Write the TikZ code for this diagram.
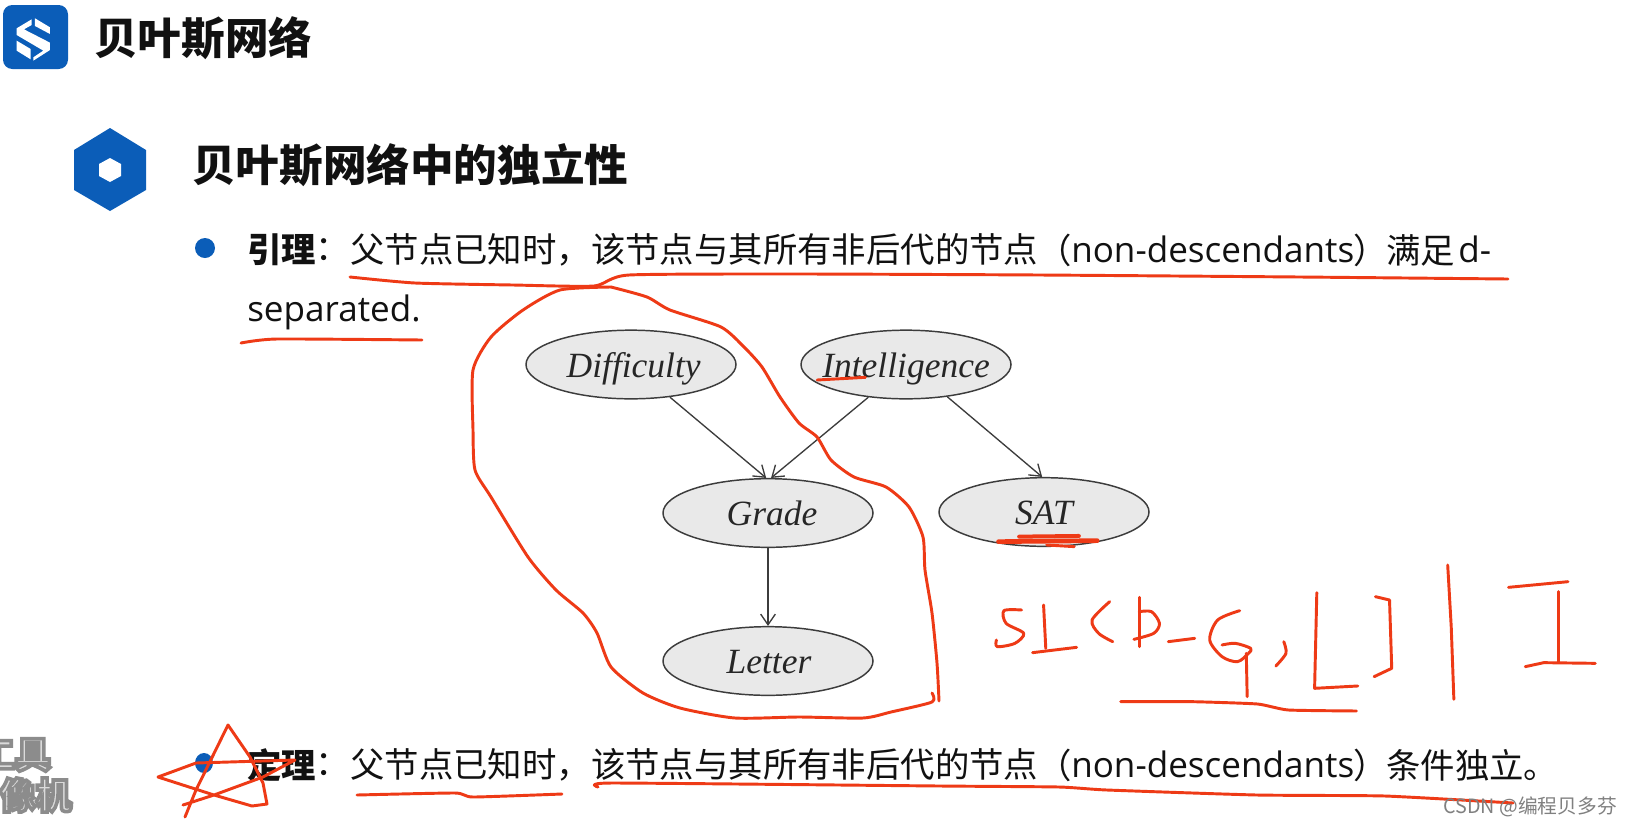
\documentclass[tikz,border=0pt]{standalone}
\usepackage{fontspec}
\setmainfont{Noto Sans CJK SC}
\newfontfamily\latinb{Open Sans}
\newfontfamily\ser{Liberation Serif}
\newfontfamily\wmfont[BoldFeatures={FakeBold=10}]{Noto Sans CJK SC}
\usetikzlibrary{shapes.geometric,arrows.meta}
\definecolor{brandblue}{HTML}{0B5DB8}
\definecolor{ink}{HTML}{111111}
\definecolor{redpen}{HTML}{EE3A16}
\definecolor{nodefill}{HTML}{E9E9E9}
\definecolor{nodeline}{HTML}{3C3C3C}
\newcommand{\bnlabel}[1]{\makebox[0pt][c]{\smash{\raisebox{-9.4pt}{#1}}}}
\newcommand{\wmtext}[1]{\special{pdf:bc [0.86] [0.55]}#1\special{pdf:ec}}
\tikzset{
  x=0.75pt,y=-0.75pt,
  pen/.style={draw=redpen,line width=2.2pt,line cap=round,line join=round},
  bn/.style={ellipse,draw=nodeline,line width=1.1pt,fill=nodefill,minimum width=157.5pt,minimum height=51.5pt,inner sep=0pt,font=\ser\itshape\fontsize{26.6}{26}\selectfont,text=black!85},
  edge/.style={draw=nodeline,line width=1pt,-{Straight Barb[length=8pt,width=11pt,line width=1pt]}},
  ttl/.style={anchor=west,inner sep=0pt,font=\fontsize{32.7}{33}\selectfont\bfseries,text=ink},
  body/.style={anchor=west,inner sep=0pt,font=\fontsize{25.8}{26}\selectfont,text=ink},
  bodyb/.style={anchor=west,inner sep=0pt,font=\fontsize{25.8}{26}\selectfont\bfseries,text=ink},
  lat/.style={anchor=west,inner sep=0pt,font=\latinb\fontsize{26.3}{26}\selectfont,text=ink},
  wm/.style={anchor=east,inner sep=0pt,font=\wmfont\fontsize{27}{27}\selectfont\bfseries},
}
\begin{document}
\begin{tikzpicture}
\useasboundingbox (0,0) rectangle (1631,826);
\fill[white] (0,0) rectangle (1631,826);
% logo
\fill[brandblue,rounded corners=7pt] (3,5) rectangle (68,69);
\begin{scope}[scale=0.3333]
\fill[white] (105,55) -- (150,82) -- (150,102) -- (105,78) -- cycle;
\fill[white] (95,58) -- (50,85) -- (50,105) -- (130,152) -- (100,172) -- (100,182) -- (150,150) -- (150,128) -- (72,88) -- (95,75) -- cycle;
\fill[white] (50,122) -- (92,147) -- (92,178) -- (50,152) -- cycle;
\end{scope}
% header texts
\node[ttl] (title) at (94,38) {贝叶斯网络};
\fill[brandblue] (110,128) -- (146,150) -- (146,190) -- (110,211) -- (74,190) -- (74,150) -- cycle;
\fill[white] (110,158) -- (121,164) -- (121,176) -- (110,182) -- (99,176) -- (99,164) -- cycle;
\node[ttl] (section) at (192,165) {贝叶斯网络中的独立性};
% bullets
\fill[brandblue] (205,248) circle (10);
\fill[brandblue] (204,763) ellipse (9 and 10);
% lemma
\node[bodyb] (lemma) at (247,250) {引理};
\node[body] (lemmacolon) at (315,250) {：};
\node[body] (l1) at (350,250) {父节点已知时，该节点与其所有非后代的节点};
\node[body] (l2a) at (1037,250) {（};
\node[lat] (l2) at (1071,249) {non-descendants};
\node[body] (l2b) at (1353,250) {）};
\node[body] (l3) at (1386,250) {满足};
\node[lat] (l4) at (1458,249) {d-};
\node[lat] (l5) at (247,312) {separated.};
% theorem
\node[bodyb] (thm) at (247,765) {定理};
\node[body] (thmcolon) at (315,765) {：};
\node[body] (t1) at (350,765) {父节点已知时，该节点与其所有非后代的节点};
\node[body] (t2a) at (1037,765) {（};
\node[lat] (t2) at (1071,764) {non-descendants};
\node[body] (t2b) at (1353,765) {）};
\node[body] (t3) at (1386,765) {条件独立。};
% network
\node[bn] (D) at (631,364.5) {\bnlabel{\kern4pt Difficulty}};
\node[bn] (I) at (906,364.5) {\bnlabel{Intelligence}};
\node[bn] (G) at (768,513) {\bnlabel{\kern6pt Grade}};
\node[bn] (S) at (1044,512) {\bnlabel{SAT}};
\node[bn] (L) at (768,661) {\bnlabel{\kern1.5pt Letter}};
\draw[edge] (D.-40) -- (G.93);
\draw[edge] (I.-139.5) -- (G.85);
\draw[edge] (I.-38.4) -- (S.93);
\draw[edge] (G) -- (L);
% red pen
\draw[pen] plot[smooth,tension=0.35] coordinates {(350,277)(415,283)(513,285)(594,286)(629,275)(800,274)(1040,275)(1300,277)(1508,279)};
\draw[pen] plot[smooth,tension=0.35] coordinates {(241,343)(277,339)(422,340)};
\draw[pen] plot[smooth,tension=0.4] coordinates {(611,287)(647,297)(670,310)(721,327)(744,347)(762,367)(780,397)(799,423)(817,437)(831,460)(854,477)(886,487)(909,507)(923,537)(925,570)(932,613)(937,663)(939,701)};
\draw[pen] plot[smooth,tension=0.4] coordinates {(932,693)(932,702)(891,712)(863,718)(799,717)(735,718)(680,708)(643,693)(611,667)(597,633)(583,613)(556,590)(528,557)(491,497)(475,470)(473,430)(473,370)(491,337)(523,310)(560,290)(611,287)};
\draw[pen] (185,817) -- (196,790) -- (228,725) -- (250,757) -- (263,783) -- (267,804) -- (252,806) -- (214,795) -- (158,777) -- (196,763) -- (295,760) -- (263,777) -- (214,795) -- (183,805);
\draw[pen] plot[smooth,tension=0.3] coordinates {(357,795)(455,793)(473,797)(562,794)};
\draw[pen] plot[smooth,tension=0.3] coordinates {(598,787)(612,783)(940,786)(1059,787)(1107,790)(1257,795)(1385,796)(1513,803)};
\begin{scope}[shift={(450,280)},xscale=0.459,yscale=0.3333]
\draw[pen] (800,300) -- (905,292);
\draw[pen,line width=3.5pt] (1195,785) -- (1410,782);
\draw[pen,line width=3pt] (1240,770) -- (1370,768);
\draw[pen] (1300,795) -- (1360,800);
\end{scope}
\begin{scope}[shift={(940,540)},xscale=0.4407,yscale=0.3333]
\draw[pen] plot[smooth,tension=0.5] coordinates {(185,210)(145,212)(150,250)(190,280)(170,310)(130,320)(128,300)};
\draw[pen] (235,195) -- (240,325);
\draw[pen] (210,338) -- (310,322);
\draw[pen] plot[smooth,tension=0.5] coordinates {(385,185)(345,240)(360,280)(392,305)};
\draw[pen] (452,172) -- (452,320);
\draw[pen] plot[smooth,tension=0.5] coordinates {(452,215)(480,215)(498,250)(485,280)(440,298)};
\draw[pen] (518,305) -- (578,295);
\draw[pen] plot[smooth,tension=0.5] coordinates {(680,212)(630,240)(612,300)(640,350)(675,365)(700,340)(705,325)(670,310)(640,315)};
\draw[pen] (695,340) -- (697,470);
\draw[pen] plot[smooth,tension=0.5] coordinates {(780,305)(785,340)(762,378)};
\draw[pen] (855,158) -- (850,445) -- (948,438);
\draw[pen] (988,170) -- (1020,180) -- (1025,385) -- (985,410);
\draw[pen] (1152,75) -- (1160,260) -- (1166,478);
\draw[pen] (1290,142) -- (1425,125);
\draw[pen] (1403,155) -- (1403,365);
\draw[pen] (1328,380) -- (1370,368) -- (1487,370);
\draw[pen] plot[smooth,tension=0.3] coordinates {(410,485)(570,485)(720,492)(790,510)(945,513)};
\end{scope}
% watermarks
\begin{scope}
\clip (0,0) rectangle (1631,826);
\node[wm] (wma) at (51,755) {\wmtext{工具}};
\node[wm] (wmb) at (72,795) {\wmtext{像机}};
\end{scope}
\node[anchor=east,inner sep=0pt,font=\fontsize{14.8}{15}\selectfont,text=black!50] (csdn) at (1617,807) {CSDN @编程贝多芬};
\end{tikzpicture}
\end{document}
